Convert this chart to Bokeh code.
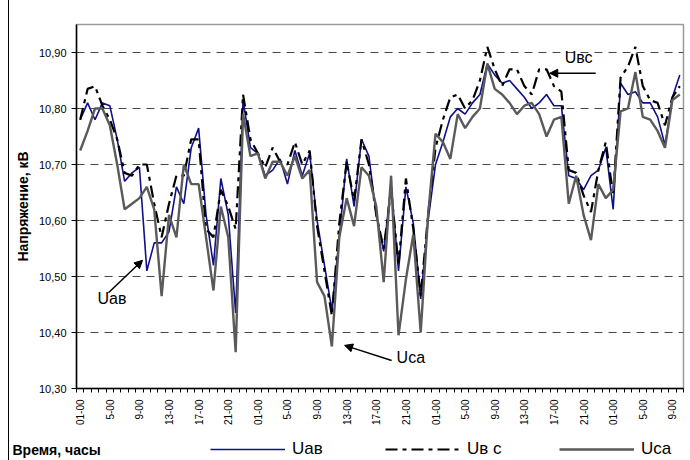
from math import pi

from bokeh.plotting import figure
from bokeh.layouts import column
from bokeh.models import (Range1d, FixedTicker, CustomJSTickFormatter, Legend, LegendItem,
                          Label, Arrow, NormalHead, ColumnDataSource)
from bokeh.embed import file_html
from bokeh.resources import INLINE

# Hour-of-day tick labels (every 4 hours over three and a half days)
tick_labels = ["01-00", "5-00", "9-00", "13-00", "17-00", "21-00"] * 3 + ["01-00", "5-00", "9-00"]

# Line voltages, kV, hourly readings
u_ab = [10.78, 10.81, 10.78, 10.81, 10.805, 10.745, 10.67, 10.685, 10.695, 10.51,
        10.56, 10.56, 10.58, 10.66, 10.63, 10.73, 10.765, 10.61, 10.52, 10.675,
        10.61, 10.435, 10.815, 10.73, 10.72, 10.68, 10.69, 10.71, 10.665, 10.725,
        10.68, 10.72, 10.60, 10.52, 10.44, 10.57, 10.71, 10.625, 10.745, 10.715,
        10.61, 10.545, 10.665, 10.51, 10.66, 10.595, 10.46, 10.60, 10.70, 10.74,
        10.785, 10.80, 10.79, 10.81, 10.825, 10.88, 10.86, 10.845, 10.85, 10.835,
        10.82, 10.80, 10.81, 10.825, 10.805, 10.805, 10.68, 10.675, 10.655, 10.68,
        10.69, 10.73, 10.62, 10.845, 10.825, 10.83, 10.81, 10.81, 10.785, 10.735,
        10.82, 10.86]

u_bc = [10.78, 10.835, 10.84, 10.805, 10.78, 10.745, 10.685, 10.68, 10.70, 10.70,
        10.63, 10.57, 10.63, 10.68, 10.68, 10.745, 10.745, 10.585, 10.57, 10.655,
        10.625, 10.585, 10.825, 10.745, 10.72, 10.695, 10.73, 10.705, 10.70, 10.74,
        10.70, 10.725, 10.59, 10.51, 10.43, 10.595, 10.705, 10.635, 10.745, 10.70,
        10.61, 10.55, 10.655, 10.52, 10.675, 10.585, 10.465, 10.61, 10.73, 10.78,
        10.82, 10.825, 10.80, 10.815, 10.85, 10.91, 10.87, 10.84, 10.87, 10.87,
        10.84, 10.825, 10.87, 10.87, 10.84, 10.83, 10.69, 10.685, 10.645, 10.615,
        10.69, 10.74, 10.645, 10.855, 10.875, 10.91, 10.84, 10.815, 10.81, 10.77,
        10.82, 10.84]

u_ca = [10.725, 10.76, 10.80, 10.80, 10.77, 10.70, 10.62, 10.63, 10.64, 10.66,
        10.62, 10.465, 10.61, 10.57, 10.70, 10.665, 10.665, 10.57, 10.475, 10.625,
        10.57, 10.365, 10.79, 10.715, 10.72, 10.675, 10.705, 10.705, 10.68, 10.715,
        10.675, 10.69, 10.49, 10.465, 10.375, 10.57, 10.64, 10.59, 10.695, 10.68,
        10.625, 10.49, 10.68, 10.395, 10.495, 10.575, 10.40, 10.61, 10.755, 10.74,
        10.71, 10.79, 10.765, 10.785, 10.80, 10.88, 10.835, 10.825, 10.81, 10.79,
        10.805, 10.81, 10.79, 10.75, 10.78, 10.785, 10.63, 10.68, 10.61, 10.565,
        10.665, 10.64, 10.655, 10.795, 10.80, 10.865, 10.785, 10.78, 10.76, 10.73,
        10.815, 10.825]

y_ticks = [10.30, 10.40, 10.50, 10.60, 10.70, 10.80, 10.90]

series_names = ["Uaв", "Uв с", "Uca"]

hours = list(range(len(u_ab)))
src = ColumnDataSource(data=dict(hour=hours, u_ab=u_ab, u_bc=u_bc, u_ca=u_ca))

FONT = "Liberation Sans"
STYLE_AB = dict(line_color="#10108a", line_width=1.6)
STYLE_BC = dict(line_color="black", line_width=2.2, line_dash="12 5 4 5")
STYLE_CA = dict(line_color="#5a5a5a", line_width=2.4)

p = figure(width=690, height=430, output_backend="svg", toolbar_location=None,
           x_range=Range1d(-0.5, len(hours) - 0.5), y_range=Range1d(10.30, 10.95),
           min_border_left=76, min_border_right=7, min_border_top=24, min_border_bottom=42)
p.background_fill_color = "white"
p.border_fill_alpha = 0
p.outline_line_color = "#9a9a9a"
p.outline_line_width = 1.5

# x axis: hourly minor ticks, label every 4 hours
label_pos = list(range(0, len(hours), 4))
p.xaxis.ticker = FixedTicker(ticks=label_pos, minor_ticks=[h - 0.5 for h in range(len(hours) + 1)])
p.xaxis.major_label_overrides = {pos: lab for pos, lab in zip(label_pos, tick_labels)}
p.xaxis.major_label_orientation = pi / 2
p.xaxis.major_tick_out = 0
p.xaxis.major_tick_in = 0
p.xaxis.minor_tick_out = 4
p.xaxis.minor_tick_in = 0
p.xaxis.major_label_standoff = 7
p.xaxis.major_label_text_font = FONT
p.xaxis.major_label_text_font_size = "10px"
p.xaxis.major_label_text_color = "black"
p.xaxis.axis_line_color = "black"
p.xaxis.axis_line_width = 1.5
p.xaxis.major_tick_line_color = "black"
p.xaxis.minor_tick_line_color = "black"

# y axis
p.yaxis.ticker = FixedTicker(ticks=y_ticks)
p.yaxis.formatter = CustomJSTickFormatter(code="return tick.toFixed(2).replace('.', ',');")
p.yaxis.major_tick_out = 5
p.yaxis.major_tick_in = 0
p.yaxis.minor_tick_line_color = None
p.yaxis.major_label_standoff = 5
p.yaxis.major_label_text_font = FONT
p.yaxis.major_label_text_font_size = "11px"
p.yaxis.major_label_text_color = "black"
p.yaxis.axis_line_color = "black"
p.yaxis.axis_line_width = 1.5
p.yaxis.major_tick_line_color = "black"
p.yaxis.axis_label = "Напряжение, кВ"
p.yaxis.axis_label_text_font = FONT
p.yaxis.axis_label_text_font_style = "bold"
p.yaxis.axis_label_text_font_size = "14px"
p.yaxis.axis_label_text_color = "black"
p.yaxis.axis_label_standoff = 5

p.xgrid.visible = False
p.ygrid.ticker = FixedTicker(ticks=y_ticks)
p.ygrid.grid_line_color = "#474747"
p.ygrid.grid_line_dash = "8 6"
p.ygrid.grid_line_width = 1

# series
p.line("hour", "u_ab", source=src, **STYLE_AB)
p.line("hour", "u_bc", source=src, **STYLE_BC)
p.line("hour", "u_ca", source=src, **STYLE_CA)

# callouts
ann = dict(text_font=FONT, text_font_size="16px", text_color="black",
           text_baseline="middle", text_align="left")
p.add_layout(Label(x=2.34, y=10.461, text=series_names[0], **ann))
p.add_layout(Label(x=42.74, y=10.355, text=series_names[2], **ann))
p.add_layout(Label(x=65.45, y=10.891, text="Uвс", **ann))

head = dict(size=8, fill_color="black", line_color="black")
p.add_layout(Arrow(end=NormalHead(**head), x_start=3.82, y_start=10.471, x_end=8.42, y_end=10.529,
                   line_width=1.5, line_color="black"))
p.add_layout(Arrow(end=NormalHead(**head), x_start=42.07, y_start=10.35, x_end=35.72, y_end=10.377,
                   line_width=1.5, line_color="black"))
p.add_layout(Arrow(end=NormalHead(**head), x_start=69.64, y_start=10.863, x_end=63.43, y_end=10.863,
                   line_width=1.5, line_color="black"))

# legend strip under the chart (pixel coordinates, not aligned with the chart frame)
leg = figure(width=690, height=30, output_backend="svg", toolbar_location=None,
             x_range=Range1d(0, 690), y_range=Range1d(0, 30), min_border=0)
leg.frame_align = False
leg.axis.visible = False
leg.grid.visible = False
leg.outline_line_color = None
leg.background_fill_alpha = 0
leg.border_fill_alpha = 0

# legend-only keys: styled like the series, nothing drawn in the strip itself
nan2 = [float("nan"), float("nan")]
leg_renderers = [leg.line([0, 1], nan2, **STYLE_AB),
                 leg.line([0, 1], nan2, **STYLE_BC),
                 leg.line([0, 1], nan2, **STYLE_CA)]

legend_style = dict(orientation="horizontal", padding=0, margin=0, border_line_alpha=0,
                    background_fill_alpha=0, glyph_width=75, glyph_height=20, label_height=20,
                    label_standoff=7, label_text_font=FONT, label_text_font_size="17px",
                    label_text_color="black")
for name, rend, x_off in zip(series_names, leg_renderers, [210, 385, 559]):
    lg = Legend(items=[LegendItem(label=name, renderers=[rend])], location=(x_off, 1),
                **legend_style)
    leg.add_layout(lg, "center")

leg.add_layout(Label(x=12, y=11, text="Время, часы", text_font=FONT,
                     text_font_style="bold", text_font_size="14px", text_color="black",
                     text_baseline="middle", text_align="left"))

page = column(p, leg, spacing=0,
              styles={"background": "linear-gradient(to right, #fff 0, #fff 8px, #000 8px, "
                                    "#000 9px, #fff 9px, #fff 100%)"})

open("out.html", "w").write(file_html(page, INLINE))
